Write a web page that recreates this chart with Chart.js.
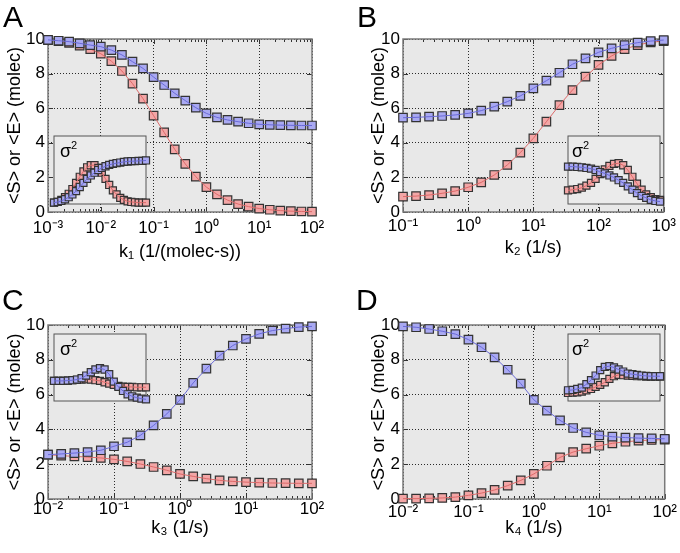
<!DOCTYPE html>
<html><head><meta charset="utf-8">
<script src="https://cdn.jsdelivr.net/npm/chart.js@4.4.0/dist/chart.umd.min.js"></script>
<style>
html,body{margin:0;padding:0;background:#fff;}
body{width:680px;height:553px;overflow:hidden;position:relative;font-family:"Liberation Sans",Arial,sans-serif;}
canvas{position:absolute;}
.lbl{position:absolute;font-size:30px;line-height:30px;color:#000;}
.sig{position:absolute;font-size:18px;line-height:18px;color:#000;}
.sig span{font-size:11px;position:relative;top:-8px;}
</style></head><body>
<canvas id="cA" width="340" height="273" style="left:0;top:0"></canvas>
<canvas id="cB" width="340" height="273" style="left:340px;top:0"></canvas>
<canvas id="cC" width="340" height="280" style="left:0;top:273px"></canvas>
<canvas id="cD" width="340" height="280" style="left:340px;top:273px"></canvas>
<canvas id="iA" width="108" height="84" style="left:46px;top:128px"></canvas>
<canvas id="iB" width="108" height="84" style="left:560px;top:128px"></canvas>
<canvas id="iC" width="108" height="83" style="left:46px;top:326px"></canvas>
<canvas id="iD" width="108" height="83" style="left:560px;top:326px"></canvas>
<div class="lbl" style="left:3px;top:2px">A</div>
<div class="lbl" style="left:357px;top:2px">B</div>
<div class="lbl" style="left:2px;top:285px">C</div>
<div class="lbl" style="left:356px;top:285px">D</div>
<div class="sig" style="left:60px;top:142px">σ<span>2</span></div>
<div class="sig" style="left:572px;top:142px">σ<span>2</span></div>
<div class="sig" style="left:60px;top:340px">σ<span>2</span></div>
<div class="sig" style="left:572px;top:340px">σ<span>2</span></div>
<script>
// ---------- categories (rate constants) ----------
const kA = [0.001,0.001585,0.002512,0.003981,0.00631,0.01,0.01585,0.02512,0.03981,0.0631,0.1,0.1585,0.2512,0.3981,0.631,1,1.585,2.512,3.981,6.31,10,15.85,25.12,39.81,63.1,100];
const kB = [0.1,0.1585,0.2512,0.3981,0.631,1,1.585,2.512,3.981,6.31,10,15.85,25.12,39.81,63.1,100,158.5,251.2,398.1,631,1000];
const kC = [0.01,0.01585,0.02512,0.03981,0.0631,0.1,0.1585,0.2512,0.3981,0.631,1,1.585,2.512,3.981,6.31,10,15.85,25.12,39.81,63.1,100];
const kD = [0.01,0.01585,0.02512,0.03981,0.0631,0.1,0.1585,0.2512,0.3981,0.631,1,1.585,2.512,3.981,6.31,10,15.85,25.12,39.81,63.1,100];

// ---------- main series: mean copy numbers (molec) ----------
const meanBlueA = [9.95,9.90,9.85,9.75,9.65,9.56,9.36,9.08,8.69,8.30,7.80,7.34,6.86,6.44,6.03,5.70,5.47,5.32,5.22,5.13,5.07,5.04,5.02,5.01,5.00,5.00];
const meanRedA  = [9.93,9.88,9.78,9.62,9.42,9.15,8.72,8.15,7.42,6.55,5.57,4.60,3.62,2.78,2.04,1.44,1.02,0.69,0.46,0.31,0.20,0.13,0.08,0.05,0.03,0.02];
const meanBlueB = [5.45,5.47,5.51,5.55,5.61,5.70,5.86,6.09,6.38,6.71,7.15,7.59,8.05,8.54,8.88,9.23,9.46,9.65,9.79,9.88,9.94];
const meanRedB  = [0.89,0.92,0.98,1.08,1.21,1.43,1.71,2.14,2.72,3.43,4.26,5.22,6.18,7.05,7.82,8.50,9.02,9.42,9.65,9.81,9.88];
const meanBlueC = [2.55,2.59,2.64,2.70,2.80,3.03,3.26,3.66,4.23,4.89,5.70,6.67,7.49,8.24,8.82,9.20,9.49,9.68,9.79,9.88,9.92];
const meanRedC  = [2.55,2.49,2.45,2.41,2.36,2.28,2.16,2.01,1.84,1.65,1.44,1.30,1.17,1.07,1.01,0.97,0.94,0.92,0.91,0.90,0.90];
const meanBlueD = [9.92,9.87,9.77,9.64,9.48,9.16,8.72,8.14,7.43,6.63,5.70,5.08,4.52,4.08,3.83,3.66,3.58,3.53,3.50,3.48,3.46];
const meanRedD  = [0.02,0.02,0.04,0.06,0.11,0.21,0.34,0.52,0.77,1.07,1.44,1.91,2.39,2.70,2.89,3.06,3.20,3.29,3.35,3.39,3.41];

// ---------- inset series: variance (relative to inset box height) ----------
const varBlueA = [0.02,0.03,0.045,0.07,0.10,0.14,0.19,0.25,0.31,0.37,0.42,0.46,0.50,0.53,0.555,0.575,0.59,0.60,0.61,0.62,0.625,0.63,0.63,0.635,0.635,0.64];
const varRedA  = [0.02,0.03,0.06,0.10,0.15,0.22,0.31,0.40,0.48,0.54,0.57,0.57,0.53,0.46,0.37,0.28,0.20,0.14,0.09,0.06,0.04,0.03,0.025,0.02,0.02,0.02];
const varBlueB = [0.55,0.55,0.545,0.54,0.53,0.52,0.50,0.47,0.45,0.42,0.39,0.35,0.31,0.26,0.21,0.16,0.12,0.09,0.06,0.045,0.035];
const varRedB  = [0.20,0.21,0.22,0.24,0.27,0.31,0.37,0.44,0.51,0.56,0.59,0.60,0.57,0.50,0.40,0.30,0.21,0.14,0.10,0.07,0.06];
const varBlueC = [0.30,0.30,0.30,0.305,0.31,0.32,0.34,0.38,0.43,0.47,0.49,0.47,0.40,0.29,0.21,0.15,0.10,0.07,0.05,0.035,0.025];
const varRedC  = [0.30,0.30,0.30,0.305,0.31,0.315,0.32,0.325,0.32,0.31,0.30,0.28,0.26,0.24,0.225,0.215,0.21,0.21,0.205,0.205,0.205];
const varBlueD = [0.16,0.165,0.18,0.20,0.25,0.31,0.38,0.46,0.51,0.52,0.50,0.47,0.44,0.41,0.40,0.39,0.38,0.375,0.37,0.37,0.37];
const varRedD  = [0.12,0.125,0.13,0.14,0.16,0.18,0.21,0.24,0.28,0.33,0.37,0.39,0.385,0.38,0.375,0.37,0.37,0.365,0.365,0.365,0.365];

// ---------- tick labels ----------
const yTicks = [0,2,4,6,8,10];
const xTicksA = [0.001,0.01,0.1,1,10,100];
const xLabelsA = ['10⁻³','10⁻²','10⁻¹','10⁰','10¹','10²'];
const xTicksB = [0.1,1,10,100,1000];
const xLabelsB = ['10⁻¹','10⁰','10¹','10²','10³'];
const xTicksCD = [0.01,0.1,1,10,100];
const xLabelsCD = ['10⁻²','10⁻¹','10⁰','10¹','10²'];
const yTitle = '<S> or <E> (molec)';

const FONT = '"Liberation Sans", Arial, sans-serif';
Chart.defaults.font.family = FONT;
const RED_FILL = '#f3a6a6', RED_LINE = '#dd6a6a';
const BLUE_FILL = '#a9a9f2', BLUE_LINE = '#6a6ad8';
const EDGE = '#333333';

const framePlugin = {
  id: 'frame',
  beforeDraw(chart, args, o) {
    const {ctx, chartArea: a} = chart;
    ctx.save();
    ctx.fillStyle = o.bg;
    ctx.fillRect(a.left, a.top, a.right - a.left, a.bottom - a.top);
    ctx.restore();
  },
  beforeDatasetsDraw(chart, args, o) {
    const {ctx, chartArea: a} = chart;
    ctx.save();
    if (o.ticks) {
      const xs = chart.scales.x, ys = chart.scales.y;
      ctx.strokeStyle = '#333'; ctx.lineWidth = 1;
      ctx.beginPath();
      const lo = Math.round(Math.log10(xs.min)), hi = Math.round(Math.log10(xs.max));
      for (let d = lo; d <= hi; d++) {
        const base = Math.pow(10, d);
        const px = Math.round(xs.getPixelForValue(base)) + 0.5;
        ctx.moveTo(px, a.bottom); ctx.lineTo(px, a.bottom - 5);
        ctx.moveTo(px, a.top); ctx.lineTo(px, a.top + 5);
        if (d < hi) for (let m = 2; m <= 9; m++) {
          const p = Math.round(xs.getPixelForValue(m * base)) + 0.5;
          ctx.moveTo(p, a.bottom); ctx.lineTo(p, a.bottom - 3);
          ctx.moveTo(p, a.top); ctx.lineTo(p, a.top + 3);
        }
      }
      yTicks.forEach(v => {
        const py = Math.round(ys.getPixelForValue(v)) + 0.5;
        ctx.moveTo(a.left, py); ctx.lineTo(a.left + 5, py);
        ctx.moveTo(a.right, py); ctx.lineTo(a.right - 5, py);
      });
      ctx.stroke();
    }
    ctx.strokeStyle = o.border; ctx.lineWidth = o.bw;
    ctx.strokeRect(a.left, a.top, a.right - a.left, a.bottom - a.top);
    ctx.restore();
  }
};

function series(ks, red, blue, r) {
  const pts = arr => ks.map((k, i) => ({x: k, y: arr[i]}));
  const line = (arr, c) => ({data: pts(arr), showLine: true, pointRadius: 0, borderColor: c, borderWidth: 1, clip: false});
  const mk = (arr, f) => ({data: pts(arr), showLine: false, pointStyle: 'rect', pointRadius: r,
    pointBackgroundColor: f, pointBorderColor: EDGE, pointBorderWidth: 1.2, clip: false});
  return [line(blue, BLUE_LINE), mk(blue, BLUE_FILL), line(red, RED_LINE), mk(red, RED_FILL)];
}

function makeMain(id, ks, red, blue, c) {
  new Chart(document.getElementById(id), {
    type: 'line',
    data: {datasets: series(ks, red, blue, 6)},
    plugins: [framePlugin],
    options: {
      responsive: false, animation: false, devicePixelRatio: 1,
      layout: {padding: {top: c.top, right: c.right, left: 0, bottom: 0}},
      plugins: {legend: {display: false}, tooltip: {enabled: false},
        frame: {bg: '#e8e8e8', border: '#7a7a7a', bw: 1.5, ticks: true}},
      scales: {
        x: {type: 'logarithmic', min: ks[0], max: ks[ks.length - 1],
          afterBuildTicks: s => { s.ticks = c.xt.map(v => ({value: v})); },
          afterFit: s => { s.height = c.xh; },
          ticks: {callback: (v, i) => c.xl[i], font: {size: 17}, color: '#000', padding: c.xtp, maxRotation: 0, autoSkip: false},
          grid: {color: '#2a2a2a', drawTicks: false, lineWidth: 1},
          border: {display: false, dash: [1, 2]},
          title: {display: true, text: c.xtitle, font: {size: 18}, color: '#000', padding: {top: 0, bottom: c.xtb}}},
        y: {type: 'linear', min: 0, max: 10,
          afterBuildTicks: s => { s.ticks = yTicks.map(v => ({value: v})); },
          afterFit: s => { s.width = c.yw; },
          ticks: {callback: v => String(v), font: {size: 17}, color: '#000', padding: 3},
          grid: {color: '#2a2a2a', drawTicks: false, lineWidth: 1},
          border: {display: false, dash: [1, 2]},
          title: {display: true, text: yTitle, font: {size: 18}, color: '#000', padding: {top: c.ytp, bottom: 0}}}
      }
    }
  });
}

function makeInset(id, ks, red, blue) {
  new Chart(document.getElementById(id), {
    type: 'line',
    data: {datasets: series(ks, red, blue, 5)},
    plugins: [framePlugin],
    options: {
      responsive: false, animation: false, devicePixelRatio: 1,
      layout: {padding: 8},
      plugins: {legend: {display: false}, tooltip: {enabled: false},
        frame: {bg: '#ebebeb', border: '#555', bw: 1, ticks: false}},
      scales: {
        x: {type: 'logarithmic', display: false, min: ks[0], max: ks[ks.length - 1]},
        y: {type: 'linear', display: false, min: 0, max: 1}
      }
    }
  });
}

makeMain('cA', kA, meanRedA, meanBlueA, {top: 39, right: 28, yw: 48, xh: 61, xt: xTicksA, xl: xLabelsA, xtp: 6, xtitle: 'k₁ (1/(molec-s))', xtb: 10, ytp: 4});
makeMain('cB', kB, meanRedB, meanBlueB, {top: 39, right: 14, yw: 63, xh: 61, xt: xTicksB, xl: xLabelsB, xtp: 4, xtitle: 'k₂ (1/s)', xtb: 14, ytp: 28});
makeMain('cC', kC, meanRedC, meanBlueC, {top: 52, right: 28, yw: 48, xh: 54, xt: xTicksCD, xl: xLabelsCD, xtp: 0, xtitle: 'k₃ (1/s)', xtb: 14, ytp: 4});
makeMain('cD', kD, meanRedD, meanBlueD, {top: 52, right: 14, yw: 63, xh: 54, xt: xTicksCD, xl: xLabelsCD, xtp: 3, xtitle: 'k₄ (1/s)', xtb: 14, ytp: 28});

makeInset('iA', kA, varRedA, varBlueA);
makeInset('iB', kB, varRedB, varBlueB);
makeInset('iC', kC, varRedC, varBlueC);
makeInset('iD', kD, varRedD, varBlueD);
</script>
</body></html>
